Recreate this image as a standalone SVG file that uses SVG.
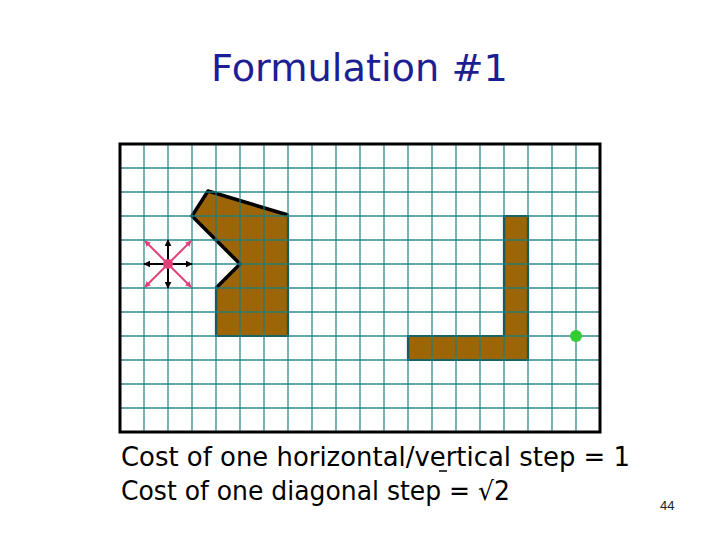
<svg xmlns="http://www.w3.org/2000/svg" width="720" height="540" viewBox="0 0 720 540">
<style>
.grid line{stroke:#1a7f80;stroke-width:1.3;opacity:0.9}
.obs{fill:#9c6508;stroke:#162e2e;stroke-width:2.2}
.edge{stroke:#000;stroke-width:3.5;fill:none;stroke-linejoin:round}
.title{font-family:"DejaVu Sans",sans-serif;font-size:37px;fill:#1e1e94}
.body{font-family:"DejaVu Sans",sans-serif;font-size:26px;fill:#000}
.blk{stroke:#000;stroke-width:2;marker-end:url(#ahB)}
.pnk{stroke:#e0407a;stroke-width:2;marker-end:url(#ahP)}
</style>
<defs>
<marker id="ahB" viewBox="0 0 10 10" refX="9" refY="5" markerWidth="3.5" markerHeight="3.5" orient="auto"><path d="M0,0 L10,5 L0,10 z" fill="#000"/></marker>
<marker id="ahP" viewBox="0 0 10 10" refX="9" refY="5" markerWidth="3" markerHeight="3" orient="auto"><path d="M0,0 L10,5 L0,10 z" fill="#e0407a"/></marker>
</defs>
<rect width="720" height="540" fill="#fff"/>
<text class="title" x="211" y="81" textLength="297" lengthAdjust="spacingAndGlyphs">Formulation #1</text>
<rect x="120" y="144" width="480" height="288" fill="#fff"/>
<g id="obstacle1">
<polygon class="obs" points="208,191 288,215 288,336 216,336 216,288 240,264 192,216"/>
<polyline class="edge" points="288,215 208,191 192,216 240,264 216,288"/>
</g>
<g id="obstacle2">
<polygon class="obs" points="504,216 528,216 528,360 408,360 408,336 504,336"/>
</g>
<g class="grid">
<line x1="144" y1="144" x2="144" y2="432"/><line x1="168" y1="144" x2="168" y2="432"/><line x1="192" y1="144" x2="192" y2="432"/><line x1="216" y1="144" x2="216" y2="432"/><line x1="240" y1="144" x2="240" y2="432"/><line x1="264" y1="144" x2="264" y2="432"/><line x1="288" y1="144" x2="288" y2="432"/><line x1="312" y1="144" x2="312" y2="432"/><line x1="336" y1="144" x2="336" y2="432"/><line x1="360" y1="144" x2="360" y2="432"/><line x1="384" y1="144" x2="384" y2="432"/><line x1="408" y1="144" x2="408" y2="432"/><line x1="432" y1="144" x2="432" y2="432"/><line x1="456" y1="144" x2="456" y2="432"/><line x1="480" y1="144" x2="480" y2="432"/><line x1="504" y1="144" x2="504" y2="432"/><line x1="528" y1="144" x2="528" y2="432"/><line x1="552" y1="144" x2="552" y2="432"/><line x1="576" y1="144" x2="576" y2="432"/>
<line x1="120" y1="168" x2="600" y2="168"/><line x1="120" y1="192" x2="600" y2="192"/><line x1="120" y1="216" x2="600" y2="216"/><line x1="120" y1="240" x2="600" y2="240"/><line x1="120" y1="264" x2="600" y2="264"/><line x1="120" y1="288" x2="600" y2="288"/><line x1="120" y1="312" x2="600" y2="312"/><line x1="120" y1="336" x2="600" y2="336"/><line x1="120" y1="360" x2="600" y2="360"/><line x1="120" y1="384" x2="600" y2="384"/><line x1="120" y1="408" x2="600" y2="408"/>
</g>
<rect x="120" y="144" width="480" height="288" fill="none" stroke="#000" stroke-width="3"/>
<g id="connectors">
<line class="pnk" x1="168" y1="264" x2="145" y2="241"/>
<line class="pnk" x1="168" y1="264" x2="191" y2="241"/>
<line class="pnk" x1="168" y1="264" x2="145" y2="287"/>
<line class="pnk" x1="168" y1="264" x2="191" y2="287"/>
<line class="blk" x1="168" y1="264" x2="144" y2="264"/>
<line class="blk" x1="168" y1="264" x2="192" y2="264"/>
<line class="blk" x1="168" y1="264" x2="168" y2="240"/>
<line class="blk" x1="168" y1="264" x2="168" y2="288"/>
</g>
<g id="robot"><circle cx="168" cy="264" r="5" fill="#e0407a"/></g>
<g id="goal"><circle cx="576" cy="336" r="6" fill="#33cc33"/></g>
<text class="body" x="121" y="466" textLength="509" lengthAdjust="spacingAndGlyphs">Cost of one horizontal/vertical step = 1</text>
<text class="body" x="121" y="500" textLength="389" lengthAdjust="spacingAndGlyphs">Cost of one diagonal step = √2</text>
<line x1="439" y1="471" x2="447" y2="471" stroke="#000" stroke-width="1.5"/>
<text x="660" y="510" font-family="Liberation Sans, sans-serif" font-size="13" fill="#222">44</text>
</svg>
